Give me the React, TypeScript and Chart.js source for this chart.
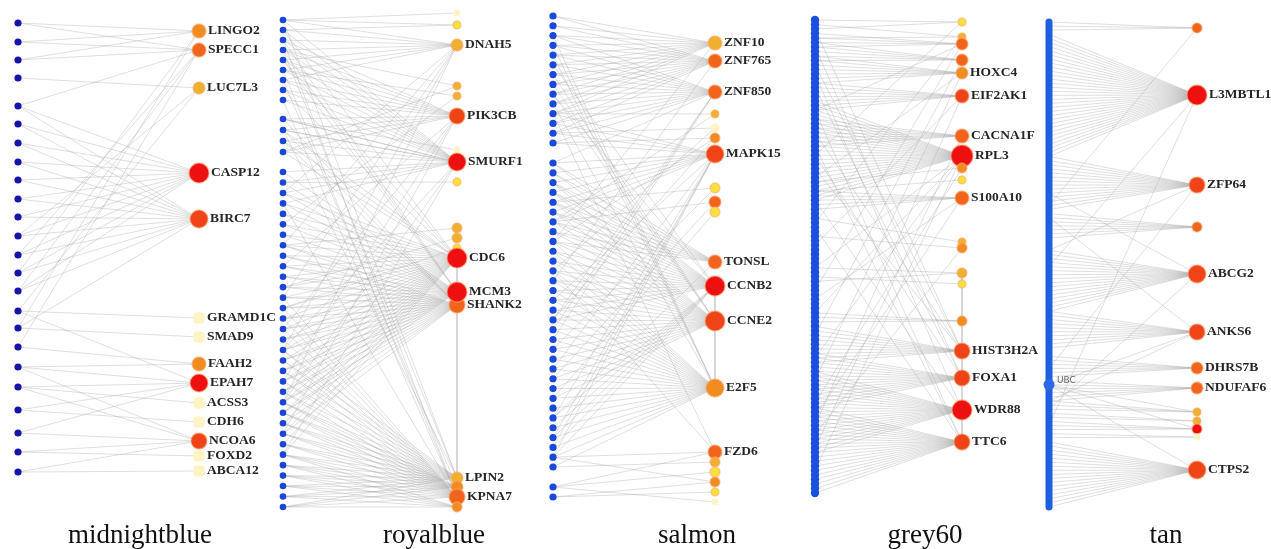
import React, { useEffect, useRef } from "react";
import { Chart, registerables } from "chart.js";

Chart.register(...registerables);

// ---------- palette keys for gene nodes ----------
const PALE = "#fdf4c4";
const YEL = "#f7e03a";
const GOLD = "#efb030";
const ORG = "#f08c20";
const DORG = "#f0641c";
const RORG = "#ef4418";
const RED = "#ee1010";

// ---------- panel titles ----------
const panelTitles = ["midnightblue", "royalblue", "salmon", "grey60", "tan"];

// ---------- midnightblue ----------
const mbLeftY = [23, 42, 60, 78, 106, 124, 143, 162, 180, 199, 217, 236, 255, 273, 291, 311, 328, 347, 367, 387, 410, 433, 452, 472];
const mbGenes = ["LINGO2", "SPECC1", "LUC7L3", "CASP12", "BIRC7", "GRAMD1C", "SMAD9", "FAAH2", "EPAH7", "ACSS3", "CDH6", "NCOA6", "FOXD2", "ABCA12"];
const mbGeneY = [31, 50, 88, 173, 219, 318, 337, 364, 383, 403, 422, 441, 456, 471];
const mbGeneR = [7, 7, 6, 10, 9, 6, 6, 7, 9, 6, 6, 8, 6, 6];
const mbGeneC = [ORG, DORG, GOLD, RED, RORG, PALE, PALE, ORG, RED, PALE, PALE, RORG, PALE, PALE];
// [gene index, first left node, last left node]
const mbEdges = [
  [0, 0, 2], [0, 13, 13], [0, 16, 16],
  [1, 0, 2], [1, 4, 4], [1, 12, 12], [1, 14, 14], [1, 17, 17],
  [2, 3, 3], [2, 11, 11], [2, 15, 15],
  [3, 4, 14], [4, 4, 14], [4, 16, 16],
  [5, 15, 15], [6, 16, 16], [7, 17, 18],
  [8, 15, 15], [8, 18, 21], [9, 19, 19], [10, 20, 20],
  [11, 18, 19], [11, 21, 23], [12, 22, 22], [13, 23, 23],
];
const mbGeneLinks: number[][] = [];

// ---------- royalblue ----------
// [top y, bottom y, node count]
const rbLeftGroups = [[20, 100, 9], [119, 152, 4], [172, 507, 33]];
const rbGenes = ["", "", "DNAH5", "", "", "PIK3CB", "", "SMURF1", "", "", "", "", "CDC6", "SHANK2", "MCM3", "LPIN2", "", "KPNA7", ""];
const rbGeneY = [13, 25, 45, 86, 96, 116, 150, 162, 182, 228, 238, 248, 258, 305, 292, 478, 487, 497, 507];
const rbGeneR = [3, 4, 6, 4, 4, 8, 3, 9, 4, 5, 5, 4, 10, 8, 10, 6, 6, 8, 5];
const rbGeneC = [PALE, YEL, GOLD, GOLD, GOLD, RORG, PALE, RED, YEL, GOLD, GOLD, YEL, RED, DORG, RED, GOLD, ORG, DORG, ORG];
const rbEdges = [
  [0, 0, 0], [1, 0, 1], [2, 0, 6], [2, 15, 15], [2, 20, 20], [2, 25, 25], [2, 30, 30], [2, 35, 35],
  [3, 3, 3], [3, 12, 12], [4, 5, 5], [4, 18, 18],
  [5, 2, 12], [5, 22, 22], [5, 28, 28], [5, 33, 33], [5, 38, 38],
  [6, 9, 9], [7, 0, 10], [7, 9, 16], [7, 30, 30], [7, 35, 35], [7, 40, 40],
  [8, 14, 14], [9, 20, 20], [10, 24, 24], [11, 26, 26],
  [12, 15, 40], [12, 1, 1], [12, 4, 4], [12, 7, 7], [12, 10, 12],
  [14, 13, 36], [14, 2, 4], [13, 20, 38], [13, 9, 11],
  [15, 30, 45], [15, 0, 0], [15, 3, 3], [15, 10, 10], [16, 35, 45], [16, 6, 6],
  [17, 25, 45], [17, 2, 2], [17, 5, 5], [17, 8, 8], [17, 16, 16], [18, 40, 45],
];
const rbGeneLinks = [[12, 18]];

// ---------- salmon ----------
const smLeftGroups = [[16, 143, 14], [163, 467, 32], [487, 497, 2]];
const smGenes = ["ZNF10", "ZNF765", "ZNF850", "", "", "", "MAPK15", "", "", "", "TONSL", "CCNB2", "CCNE2", "E2F5", "FZD6", "", "", "", "", ""];
const smGeneY = [43, 61, 92, 114, 128, 138, 154, 188, 202, 212, 262, 286, 321, 388, 452, 462, 472, 482, 492, 502];
const smGeneR = [7, 7, 7, 4, 4, 5, 9, 5, 6, 5, 7, 10, 10, 9, 7, 5, 5, 5, 4, 3];
const smGeneC = [GOLD, DORG, DORG, GOLD, PALE, ORG, RORG, YEL, DORG, YEL, DORG, RED, RORG, ORG, DORG, GOLD, YEL, ORG, YEL, PALE];
const smEdges = [
  [0, 0, 10], [0, 22, 22], [1, 0, 12], [1, 26, 26], [2, 2, 14], [2, 30, 32],
  [3, 10, 10], [3, 20, 20], [4, 12, 12], [4, 25, 25],
  [5, 13, 13], [5, 22, 22], [5, 30, 30],
  [6, 10, 20], [6, 28, 28], [6, 35, 35], [6, 40, 40], [6, 42, 44],
  [7, 18, 18], [7, 33, 33], [8, 20, 20], [8, 36, 36], [9, 38, 38],
  [10, 14, 22], [10, 40, 40], [11, 14, 30], [11, 5, 5], [11, 8, 8], [11, 40, 44],
  [12, 16, 38], [12, 6, 8], [13, 22, 45], [13, 9, 9], [13, 2, 4],
  [14, 10, 10], [14, 25, 25], [14, 44, 44], [14, 46, 46], [15, 45, 45], [16, 46, 46],
  [17, 44, 44], [17, 47, 47], [18, 47, 47], [19, 46, 46],
];
const smGeneLinks = [[11, 13]];

// ---------- grey60 ----------
const gyLeftGroups = [[20, 493, 106]];
const gyGenes = ["", "", "", "", "HOXC4", "EIF2AK1", "CACNA1F", "RPL3", "", "", "S100A10", "", "", "", "", "", "HIST3H2A", "FOXA1", "WDR88", "TTC6"];
const gyGeneY = [22, 37, 44, 60, 73, 96, 136, 156, 168, 180, 198, 242, 248, 273, 284, 321, 351, 378, 410, 442];
const gyGeneR = [4, 4, 6, 6, 6, 7, 7, 11, 5, 4, 7, 4, 5, 5, 4, 5, 8, 8, 10, 8];
const gyGeneC = [YEL, GOLD, DORG, DORG, ORG, RORG, DORG, RED, ORG, YEL, DORG, GOLD, ORG, GOLD, YEL, ORG, RORG, RORG, RED, RORG];
const gyEdges = [
  [0, 0, 0], [0, 2, 2], [0, 30, 30], [1, 1, 1], [1, 4, 4], [1, 45, 45],
  [2, 3, 6], [2, 20, 20], [2, 60, 60], [3, 5, 9], [3, 70, 70],
  [4, 8, 14], [4, 35, 35], [4, 80, 80], [5, 14, 20], [5, 50, 50], [5, 90, 90],
  [6, 22, 28], [6, 95, 95], [7, 18, 40], [7, 55, 55], [7, 65, 65], [7, 75, 75], [7, 100, 100],
  [8, 36, 36], [8, 85, 85], [9, 38, 38], [10, 38, 42], [10, 62, 62], [10, 88, 88],
  [11, 44, 44], [12, 48, 48], [12, 92, 92], [13, 55, 55], [13, 58, 58], [14, 57, 57], [15, 65, 67],
  [16, 2, 2], [16, 10, 10], [16, 25, 25], [16, 33, 33], [16, 68, 76],
  [17, 6, 6], [17, 15, 15], [17, 30, 30], [17, 74, 86],
  [18, 12, 12], [18, 40, 40], [18, 78, 96],
  [19, 20, 20], [19, 28, 28], [19, 46, 46], [19, 86, 105],
];
const gyGeneLinks = [[13, 19]];

// ---------- tan ----------
const tnLeftGroups = [[22, 507, 120]];
const tnHub = "UBC";
const tnHubIndex = 89;
const tnGenes = ["", "L3MBTL1", "ZFP64", "", "ABCG2", "ANKS6", "DHRS7B", "NDUFAF6", "", "", "", "", "CTPS2"];
const tnGeneY = [28, 95, 185, 227, 274, 332, 368, 388, 412, 421, 429, 437, 470];
const tnGeneR = [5, 10, 8, 5, 9, 8, 6, 6, 4, 4, 5, 3, 9];
const tnGeneC = [DORG, RED, RORG, DORG, RORG, RORG, DORG, DORG, GOLD, GOLD, RED, PALE, RORG];
const tnEdges = [
  [0, 0, 2], [1, 3, 33], [2, 33, 46], [3, 47, 53], [4, 56, 71], [5, 71, 80],
  [6, 82, 87], [7, 88, 93], [8, 93, 95], [9, 96, 97], [10, 98, 100], [11, 101, 102], [12, 103, 119],
  [0, 45, 45], [1, 60, 60], [1, 99, 99], [2, 56, 56], [2, 85, 85], [4, 42, 42], [4, 95, 95],
  [5, 48, 48], [5, 93, 93], [5, 89, 89], [12, 89, 89], [8, 89, 89], [10, 89, 89],
];
const tnGeneLinks: number[][] = [];

// ---------- layout (positions / styles) ----------
const leftX = [18, 283, 553, 815, 1049];
const rightX = [199, 457, 715, 962, 1197];
const titleX = [140, 434, 697, 925, 1166];
const leftDotR = [3.6, 3.3, 3.6, 4.2, 0];
const leftDotColor = ["#1414a8", "#1a46d6", "#1848dc", "#1a50de", "#1e5ee0"];

function expandGroups(groups: number[][]): number[] {
  const out: number[] = [];
  for (const [a, b, n] of groups) {
    for (let i = 0; i < n; i++) out.push(n === 1 ? a : a + ((b - a) * i) / (n - 1));
  }
  return out;
}

const panels = [
  { leftY: mbLeftY, genes: mbGenes, y: mbGeneY, r: mbGeneR, c: mbGeneC, edges: mbEdges, links: mbGeneLinks },
  { leftY: expandGroups(rbLeftGroups), genes: rbGenes, y: rbGeneY, r: rbGeneR, c: rbGeneC, edges: rbEdges, links: rbGeneLinks },
  { leftY: expandGroups(smLeftGroups), genes: smGenes, y: smGeneY, r: smGeneR, c: smGeneC, edges: smEdges, links: smGeneLinks },
  { leftY: expandGroups(gyLeftGroups), genes: gyGenes, y: gyGeneY, r: gyGeneR, c: gyGeneC, edges: gyEdges, links: gyGeneLinks },
  { leftY: expandGroups(tnLeftGroups), genes: tnGenes, y: tnGeneY, r: tnGeneR, c: tnGeneC, edges: tnEdges, links: tnGeneLinks },
];

function buildDatasets(): any[] {
  const ds: any[] = [];
  panels.forEach((p, pi) => {
    const lx = leftX[pi];
    const rx = rightX[pi];
    const edgePts: any[] = [];
    for (const [g, from, to] of p.edges) {
      for (let l = from; l <= to; l++) {
        if (p.leftY[l] === undefined) continue;
        edgePts.push({ x: lx, y: p.leftY[l] });
        edgePts.push({ x: rx, y: p.y[g] });
        edgePts.push({ x: rx, y: null });
      }
    }
    for (const [a, b] of p.links) {
      edgePts.push({ x: rx, y: p.y[a] });
      edgePts.push({ x: rx, y: p.y[b] });
      edgePts.push({ x: rx, y: null });
    }
    ds.push({
      label: "edges" + pi,
      data: edgePts,
      showLine: true,
      spanGaps: false,
      borderColor: "rgba(165,165,165,0.4)",
      borderWidth: 0.9,
      pointRadius: 0,
      pointHoverRadius: 0,
      clip: false,
      order: 10,
    });
    if (pi === 4) {
      ds.push({
        label: "spine",
        data: [{ x: lx, y: tnLeftGroups[0][0] }, { x: lx, y: tnLeftGroups[0][1] }],
        showLine: true,
        borderColor: leftDotColor[pi],
        borderWidth: 7,
        borderCapStyle: "round",
        pointRadius: 0,
        clip: false,
        order: 5,
      });
      ds.push({
        label: "hub",
        data: [{ x: lx, y: p.leftY[tnHubIndex] }],
        pointRadius: 5.5,
        backgroundColor: "#2c68e8",
        borderWidth: 0,
        clip: false,
        order: 4,
      });
    } else {
      ds.push({
        label: "left" + pi,
        data: p.leftY.map((y) => ({ x: lx, y })),
        pointRadius: leftDotR[pi],
        backgroundColor: leftDotColor[pi],
        borderWidth: 0,
        clip: false,
        order: 5,
      });
    }
    ds.push({
      label: "genes" + pi,
      data: p.y.map((y) => ({ x: rx, y })),
      pointRadius: p.r,
      pointStyle: p.c.map((c) => (pi === 0 && c === PALE ? "rectRounded" : "circle")),
      backgroundColor: p.c,
      borderColor: p.c.map((c) => (c === PALE ? "rgba(253,244,196,0.6)" : "rgba(255,170,120,0.55)")),
      borderWidth: 1.4,
      clip: false,
      order: 1,
    });
  });
  return ds;
}

const labelPlugin = {
  id: "geneLabels",
  afterDatasetsDraw(chart: any) {
    const { ctx } = chart;
    const xs = chart.scales.x;
    const ys = chart.scales.y;
    ctx.save();
    ctx.font = "bold 13.5px 'Liberation Serif', serif";
    ctx.fillStyle = "#262626";
    ctx.textBaseline = "middle";
    ctx.textAlign = "left";
    panels.forEach((p, pi) => {
      p.genes.forEach((g, gi) => {
        if (!g) return;
        ctx.fillText(g, xs.getPixelForValue(rightX[pi]) + p.r[gi] + 2, ys.getPixelForValue(p.y[gi]));
      });
    });
    // hub label
    ctx.font = "9px 'DejaVu Sans', sans-serif";
    ctx.fillStyle = "#666";
    ctx.fillText(tnHub, xs.getPixelForValue(leftX[4]) + 8, ys.getPixelForValue(panels[4].leftY[tnHubIndex]) - 4);
    // panel titles
    ctx.font = "27px 'Liberation Serif', serif";
    ctx.fillStyle = "#111";
    ctx.textAlign = "center";
    ctx.textBaseline = "alphabetic";
    panelTitles.forEach((t, i) => {
      ctx.fillText(t, xs.getPixelForValue(titleX[i]), ys.getPixelForValue(543));
    });
    ctx.restore();
  },
};

export default function App() {
  const ref = useRef<HTMLCanvasElement>(null);
  useEffect(() => {
    if (!ref.current) return;
    const chart = new Chart(ref.current, {
      type: "scatter",
      data: { datasets: buildDatasets() },
      options: {
        animation: false,
        responsive: false,
        devicePixelRatio: 1,
        layout: { padding: 0, autoPadding: false },
        events: [],
        plugins: { legend: { display: false }, tooltip: { enabled: false } },
        scales: {
          x: { type: "linear", min: 0, max: 1271, display: false },
          y: { type: "linear", min: 0, max: 549, reverse: true, display: false },
        },
      },
      plugins: [labelPlugin],
    } as any);
    return () => chart.destroy();
  }, []);
  return (
    <div style={{ position: "absolute", left: 0, top: 0, width: 1271, height: 549, background: "#fff" }}>
      <canvas ref={ref} width={1271} height={549} style={{ display: "block" }} />
    </div>
  );
}
